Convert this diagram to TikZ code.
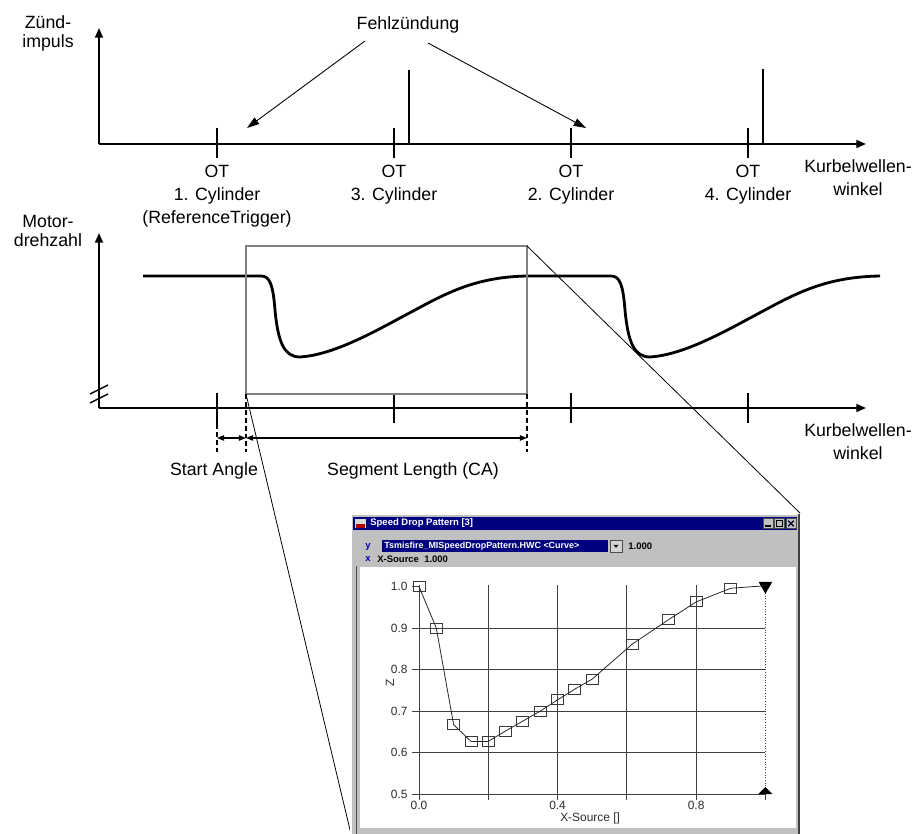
\documentclass[tikz,border=0pt]{standalone}
\usepackage{fontspec}
\setmainfont{Liberation Sans}
\usepackage{xcolor}
\usetikzlibrary{arrows.meta, positioning, calc, shapes.geometric}

\definecolor{winnavy}{HTML}{000080}
\definecolor{wingray}{HTML}{C0C0C0}
\definecolor{gridgray}{HTML}{404040}
\definecolor{boxgray}{HTML}{808080}

\begin{document}
\begin{tikzpicture}[
  x=0.02cm, y=-0.02cm,
  axis/.style     = {line width=1.1pt, -{Triangle[length=5.5pt, width=4.5pt]}},
  tickmark/.style = {line width=0.8pt},
  spike/.style    = {line width=1.7pt},
  pointer/.style  = {line width=0.5pt, -{Triangle[length=7pt, width=4.5pt]}},
  speed/.style    = {line width=1.6pt, line join=round},
  cutout/.style   = {draw=boxgray, line width=0.8pt},
  guide/.style    = {line width=1.2pt, dash pattern=on 2.8pt off 1.7pt},
  dimline/.style  = {line width=0.7pt,
                     {Triangle[length=4pt, width=3pt]}-{Triangle[length=4pt, width=3pt]}},
  zoomline/.style = {line width=0.45pt},
  lbl/.style      = {font=\fontsize{10.1}{13.04}\selectfont, align=center, inner sep=0pt},
  ylbl/.style     = {font=\fontsize{10.1}{10.8}\selectfont, align=center, inner sep=0pt,
                     anchor=north},
  guitxt/.style   = {font=\fontsize{5.4}{6}\selectfont\bfseries, inner sep=0pt, anchor=west},
  ticktxt/.style  = {font=\fontsize{6.8}{8}\selectfont, text=gray!35!black, inner sep=0pt},
  mk/.style       = {draw=gray!45!black, line width=0.5pt, rectangle, inner sep=0pt,
                     minimum width=0.24cm, minimum height=0.2cm},
  btn/.style      = {draw=gray!60!black, fill=wingray, inner sep=0pt,
                     minimum width=0.2cm, minimum height=0.19cm},
]
\useasboundingbox (0,0) rectangle (917,834);

%% ── Zündimpuls axis ─────────────────────────────────────────────────────────
\coordinate (o1) at (99,144);
\coordinate (x1) at (866,144);
\coordinate (y1) at (99,28);
\draw[axis] (o1) -- (x1);
\draw[axis] (o1) -- (y1);
\node[ylbl] (zuend) at (48,15) {Zünd-\\impuls};

\foreach \tx in {217, 394, 571, 748} {
  \draw[tickmark] (\tx,128) -- (\tx,158);
}
\node[lbl, anchor=north] (ot1) at (217,165) {OT\\1. Cylinder\\(ReferenceTrigger)};
\node[lbl, anchor=north] (ot3) at (394,165) {OT\\3. Cylinder};
\node[lbl, anchor=north] (ot2) at (571,165) {OT\\2. Cylinder};
\node[lbl, anchor=north] (ot4) at (748,165) {OT\\4. Cylinder};
\node[lbl, anchor=north] (kw1) at (858,159) {Kurbelwellen-\\winkel};

% ignition spikes
\draw[spike] (409,144) -- (409,70);
\draw[spike] (763,144) -- (763,69);

% misfire pointers
\node[lbl] (fz) at (408,25) {Fehlzündung};
\coordinate (fzl) at (365,41);
\coordinate (fzr) at (428,43);
\coordinate (miss1) at (247,128);
\coordinate (miss2) at (586,128);
\draw[pointer] (fzl) -- (miss1);
\draw[pointer] (fzr) -- (miss2);

%% ── Motordrehzahl axis ──────────────────────────────────────────────────────
\coordinate (o2) at (99,408);
\coordinate (x2) at (866,408);
\coordinate (y2) at (99,233);
\draw[axis] (o2) -- (x2);
\draw[axis] (o2) -- (y2);
\node[ylbl] (drehz) at (48,215) {Motor-\\drehzahl};
\draw[line width=0.8pt] (90,394) -- (108,385);
\draw[line width=0.8pt] (90,403) -- (108,394);

\draw[tickmark] (217,393) -- (217,424);
\foreach \tx in {394, 571, 748} {
  \draw[tickmark] (\tx,393) -- (\tx,423);
}
\node[lbl, anchor=north] (kw2) at (858,423) {Kurbelwellen-\\winkel};

% speed trace with two drops
\draw[speed] (143,276) -- (261,276)
  .. controls (270,276) and (273,285) .. (275,310)
  .. controls (278,342) and (284,357) .. (300,357)
  .. controls (330,355) and (365,337) .. (400,318)
  .. controls (440,297) and (470,277) .. (527,276)
  -- (611,276)
  .. controls (620,276) and (623,285) .. (625,310)
  .. controls (628,342) and (634,357) .. (650,357)
  .. controls (680,355) and (715,337) .. (750,318)
  .. controls (790,297) and (820,277) .. (880,276);

% segment window
\coordinate (segNW) at (246,246);
\coordinate (segNE) at (527,246);
\coordinate (segSW) at (246,394);
\coordinate (segSE) at (527,394);
\draw[cutout] (segNW) rectangle (segSE);

% dimension guides
\coordinate (refA) at (217,424);
\coordinate (refB) at (217,452);
\draw[guide] (refA) -- (refB);
\draw[guide] (segSW) -- (246,452);
\draw[guide] (segSE) -- (527,452);
\coordinate (dA) at (217,438);
\coordinate (dB) at (246,438);
\coordinate (dC) at (527,438);
\draw[dimline] (dA) -- (dB);
\draw[dimline] (dB) -- (dC);
\node[lbl, anchor=north] (sa) at (214,462) {Start Angle};
\node[lbl, anchor=north] (sl) at (413,462) {Segment Length (CA)};

%% ── Zoom lines to the curve window ──────────────────────────────────────────
\coordinate (guiNE) at (800,513);
\coordinate (guiSW) at (351,834);
\draw[zoomline] (segNE) -- (guiNE);
\draw[zoomline] (segSW) -- (guiSW);

%% ── Curve editor window ─────────────────────────────────────────────────────
\fill[wingray] (350,513) rectangle (800,840);
\draw[white, line width=0.6pt] (351,840) -- (351,514) -- (799,514);
\draw[gray!50!black, line width=0.6pt] (799,514) -- (799,840);
\draw[gray!60!black, line width=0.5pt] (356,840) -- (356,566);
\fill[winnavy] (353,517) rectangle (797,530);
\fill[gray!30] (355,519) rectangle (366,528);
\fill[red!70!black] (356,524) rectangle (365,528);
\node[guitxt, text=white] (title) at (370,523.5) {Speed Drop Pattern [3]};
\node[btn] (bmin) at (768.5,523.5) {};
\node[btn] (bmax) at (779.5,523.5) {};
\node[btn] (bcls) at (791,523.5) {};
\draw[line width=0.9pt] ([xshift=-1.8pt, yshift=-1.5pt]bmin.center) -- ++(3pt,0);
\draw[line width=0.5pt] ([xshift=-1.8pt, yshift=-1.8pt]bmax.center) rectangle ++(3.6pt,3.4pt);
\draw[line width=0.7pt] ([xshift=-1.6pt, yshift=-1.6pt]bcls.center) -- ++(3.2pt,3.2pt)
                        ([xshift=-1.6pt, yshift=1.6pt]bcls.center) -- ++(3.2pt,-3.2pt);

\node[guitxt, text=blue!70!black] (yicon) at (365,546.5) {y};
\fill[winnavy] (382,540) rectangle (608,552);
\node[guitxt, font=\fontsize{5.1}{6}\selectfont\bfseries, text=white] (ysrc) at (384,546)
  {Tsmisfire\_MISpeedDropPattern.HWC <Curve>};
\node[btn, minimum width=0.24cm, minimum height=0.24cm, fill=wingray!70!white] (ddbtn) at (616,546) {};
\fill ([xshift=-1.4pt, yshift=0.6pt]ddbtn.center) -- ++(2.8pt,0) -- ++(-1.4pt,-1.6pt) -- cycle;
\node[guitxt] (yval) at (628,546) {1.000};
\node[guitxt, text=blue!70!black] (xicon) at (365,559) {x};
\node[guitxt] (xsrc) at (377,559) {X-Source\ \ 1.000};

\fill[white] (360,567) rectangle (796,828);

% plot in data units: x in [0,1], z in [0.5,1.0]
\begin{scope}[shift={(419,1001.5)}, x={(6.93cm,0cm)}, y={(0cm,8.3cm)}]
  \foreach \gz in {0.6, 0.7, 0.8, 0.9} {
    \draw[gridgray, line width=0.5pt] (0,\gz) -- (1,\gz);
  }
  \foreach \gx in {0.2, 0.4, 0.6, 0.8} {
    \draw[gridgray, line width=0.5pt] (\gx,0.5) -- (\gx,1.003);
  }
  \draw[gridgray, line width=0.5pt] (0,1.003) -- (0,0.5) -- (1,0.5);
  \draw[gridgray, line width=0.5pt, densely dotted] (1,0.5) -- (1,1.003);
  \foreach \gz in {0.5, 0.6, 0.7, 0.8, 0.9, 1.0} {
    \draw[gridgray, line width=0.5pt] (-0.02,\gz) -- (0,\gz);
    \node[ticktxt] (zl\gz) at (-0.057,\gz) {\gz};
  }
  \foreach \gx in {0.0, 0.2, 0.4, 0.6, 0.8, 1.0} {
    \draw[gridgray, line width=0.5pt] (\gx,0.5) -- (\gx,0.485);
  }
  \foreach \gx in {0.0, 0.4, 0.8} {
    \node[ticktxt] (xl\gx) at (\gx,0.472) {\gx};
  }
  \node[ticktxt, rotate=90] (zname) at (-0.084,0.767) {Z};
  \node[ticktxt] (xname) at (0.494,0.442) {X-Source []};

  % curve points
  \foreach \px/\pz [count=\i] in {0/1.0, 0.05/0.9, 0.1/0.667, 0.15/0.627, 0.2/0.627,
      0.25/0.652, 0.3/0.676, 0.35/0.70, 0.4/0.727, 0.45/0.753, 0.5/0.777,
      0.615/0.861, 0.72/0.92, 0.8/0.963, 0.9/0.996} {
    \node[mk] (p\i) at (\px,\pz) {};
  }
  \node[regular polygon, regular polygon sides=3, shape border rotate=180, fill=black,
        inner sep=0pt, minimum size=0.32cm] (p16) at (1.0,1.002) {};
  \node[isosceles triangle, isosceles triangle apex angle=90, shape border rotate=90,
        fill=black, inner sep=0pt, minimum width=0.28cm] (pend) at (1.0,0.507) {};
  \foreach \i [remember=\i as \j (initially 1)] in {2,...,16} {
    \draw[gray!30!black, line width=0.45pt] (p\j.center) -- (p\i.center);
  }
\end{scope}

\end{tikzpicture}
\end{document}
